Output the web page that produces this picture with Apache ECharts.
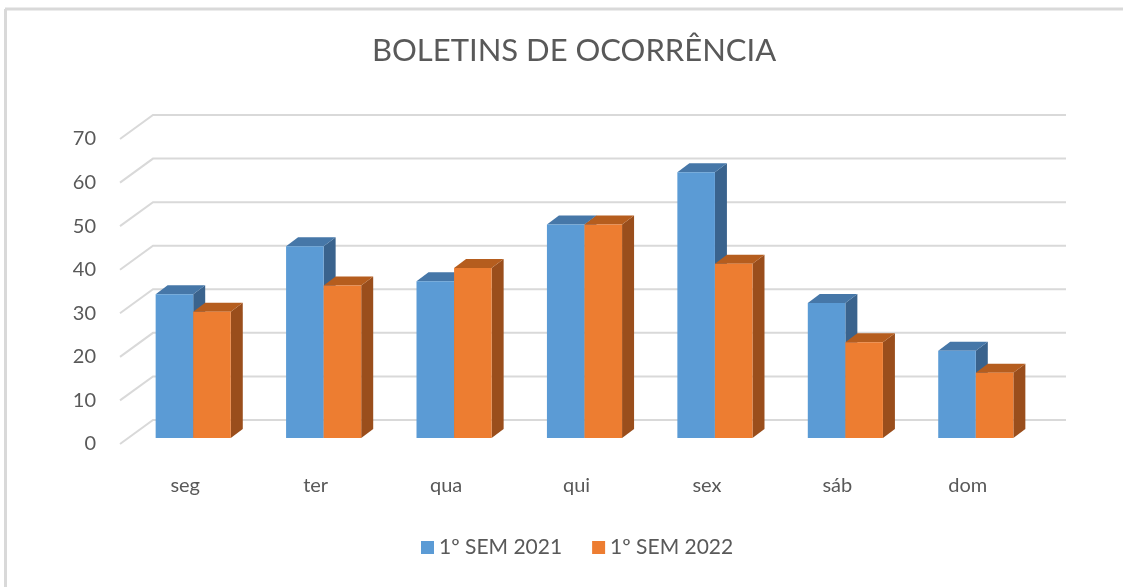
<!DOCTYPE html>
<html>
<head>
<meta charset="utf-8">
<script src="https://cdn.jsdelivr.net/npm/echarts@6/dist/echarts.min.js"></script>
<style>
  html, body { margin: 0; padding: 0; background: #fff; }
  #chart { width: 1123px; height: 587px; }
</style>
</head>
<body>
<div id="chart"></div>
<script>
const days = ['seg', 'ter', 'qua', 'qui', 'sex', 'sáb', 'dom']
const sem2021 = [33, 44, 36, 49, 61, 31, 20]
const sem2022 = [29, 35, 39, 49, 40, 22, 15]
const yTicks = [0, 10, 20, 30, 40, 50, 60, 70]

// perspective offsets (px)
const WALL_DX = 33
const WALL_DY = -24
const PLANE_DX = 8
const PLANE_DY = -6
const BAR_DX = 12
const BAR_DY = -9

const chart = echarts.init(document.getElementById('chart'))

// 3D-ish bar: front face, top face, right side
const barRenderer = (k, front, topColor, sideColor) => (params, api) => {
  const i = api.value(0)
  const v = api.value(1)
  const base = api.coord([i, 0])
  const top = api.coord([i, v])
  const w = api.size([1, 0])[0] * 0.288
  const x0 = base[0] + PLANE_DX + (k === 0 ? -w : 0)
  const x1 = x0 + w
  const yb = base[1] + PLANE_DY
  const yt = top[1] + PLANE_DY
  return {
    type: 'group',
    children: [
      {
        type: 'polygon',
        shape: { points: [[x1, yt], [x1 + BAR_DX, yt + BAR_DY], [x1 + BAR_DX, yb + BAR_DY], [x1, yb]] },
        style: { fill: sideColor }
      },
      {
        type: 'polygon',
        shape: { points: [[x0, yt], [x1, yt], [x1 + BAR_DX, yt + BAR_DY], [x0 + BAR_DX, yt + BAR_DY]] },
        style: { fill: topColor }
      },
      {
        type: 'rect',
        shape: { x: x0, y: yt, width: w, height: yb - yt },
        style: { fill: front }
      }
    ]
  }
}

const gridRenderer = (params, api) => {
  const cs = params.coordSys
  const y = api.coord([0, api.value(1)])[1]
  return {
    type: 'polyline',
    shape: {
      points: [[cs.x, y], [cs.x + WALL_DX, y + WALL_DY], [cs.x + cs.width + WALL_DX, y + WALL_DY]]
    },
    style: { stroke: '#d9d9d9', lineWidth: 2, fill: null }
  }
}

const option = {
  backgroundColor: '#fff',
  animation: false,
  textStyle: { fontFamily: 'Lato' },
  title: {
    text: 'BOLETINS DE OCORRÊNCIA',
    left: 367,
    top: 30,
    textStyle: { fontFamily: 'Lato', fontSize: 31, fontWeight: 'normal', color: '#595959' }
  },
  legend: {
    data: ['1º SEM 2021', '1º SEM 2022'],
    bottom: 24,
    left: 416,
    icon: 'rect',
    itemWidth: 13,
    itemHeight: 13,
    itemGap: 30,
    textStyle: { fontFamily: 'Lato', fontSize: 21, color: '#595959' }
  },
  graphic: [
    { type: 'line', shape: { x1: 5.5, y1: 9, x2: 5.5, y2: 587 }, style: { stroke: '#d9d9d9', lineWidth: 3 } },
    { type: 'line', shape: { x1: 5, y1: 9, x2: 1123, y2: 9 }, style: { stroke: '#d9d9d9', lineWidth: 3 } }
  ],
  grid: { left: 120, right: 90, top: 139, bottom: 143 },
  xAxis: {
    type: 'category',
    data: days,
    axisLine: { show: false },
    axisTick: { show: false },
    axisLabel: { fontFamily: 'Lato', fontSize: 20, color: '#595959', margin: 32 }
  },
  yAxis: {
    type: 'value',
    min: 0,
    max: 70,
    interval: 10,
    axisLine: { show: false },
    axisTick: { show: false },
    splitLine: { show: false },
    axisLabel: { fontFamily: 'Lato', fontSize: 20, color: '#595959', margin: 24 }
  },
  series: [
    {
      name: 'grid',
      type: 'custom',
      silent: true,
      z: 1,
      renderItem: gridRenderer,
      encode: { x: 0, y: 1 },
      data: yTicks.map(v => [0, v])
    },
    {
      name: '1º SEM 2021',
      type: 'custom',
      z: 2,
      itemStyle: { color: '#5b9bd5' },
      renderItem: barRenderer(0, '#5b9bd5', '#4677a8', '#3a638d'),
      encode: { x: 0, y: 1 },
      data: sem2021.map((v, i) => [i, v])
    },
    {
      name: '1º SEM 2022',
      type: 'custom',
      z: 3,
      itemStyle: { color: '#ed7d31' },
      renderItem: barRenderer(1, '#ed7d31', '#b55d1e', '#9a4e1c'),
      encode: { x: 0, y: 1 },
      data: sem2022.map((v, i) => [i, v])
    }
  ]
}
chart.setOption(option)
window.addEventListener('resize', () => chart.resize())
</script>
</body>
</html>
